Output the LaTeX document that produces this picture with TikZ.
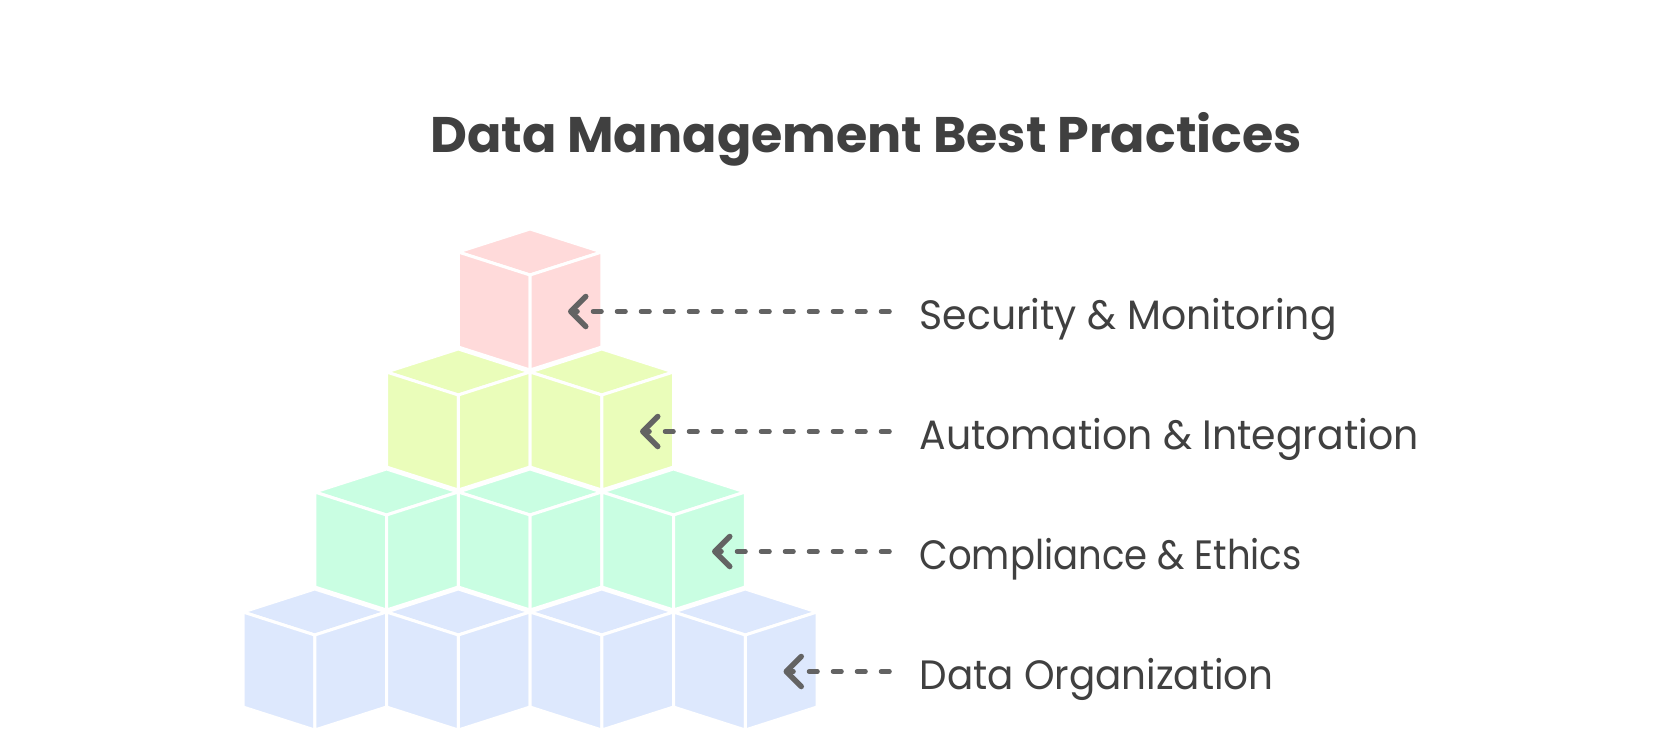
\documentclass[tikz,border=0pt]{standalone}
\usepackage{fontspec}
\usepackage{graphicx}
\setmainfont{Poppins}
\usetikzlibrary{arrows.meta}
\definecolor{pinkc}{HTML}{FFDADA}
\definecolor{limec}{HTML}{EAFDBA}
\definecolor{mintc}{HTML}{C9FEE2}
\definecolor{bluec}{HTML}{DDE8FD}
\definecolor{txtc}{HTML}{404040}
\definecolor{arrc}{HTML}{636363}
\newcommand\fitw[2]{\resizebox{#1pt}{\height}{#2}}
\tikzset{
  cubeface/.style={draw=white, line width=3pt, line join=round},
  pics/cube/.style={code={
    \path[cubeface, fill=#1] (0,0) -- (-71.75,-23) -- (0,-46) -- (71.75,-23) -- cycle;
    \path[cubeface, fill=#1] (0,0) -- (-71.75,-23) -- (-71.75,72) -- (0,95) -- cycle;
    \path[cubeface, fill=#1] (0,0) -- (71.75,-23) -- (71.75,72) -- (0,95) -- cycle;
  }},
  conn/.style={draw=arrc, line width=4.5pt, line cap=round, dash pattern=on 8.5pt off 15.5pt,
    -{Straight Barb[length=15pt, width=30pt, line width=5.5pt, round]}},
  lbl/.style={text=txtc, inner sep=0pt, anchor=base west, font=\fontsize{41}{48}\selectfont},
  ttl/.style={text=txtc, inner sep=0pt, anchor=base west, font=\fontsize{50}{58}\selectfont\bfseries}
}
\begin{document}
\begin{tikzpicture}[x=1pt, y=-1pt]
  \fill[white] (0,0) rectangle (1659,752);
  \useasboundingbox (0,0) rectangle (1659,752);

  % title
  \node[ttl] (title) at (430,152.3) {\fitw{871.7}{Data Management Best Practices}};

  % bottom row (blue)
  \pic at (314.75,635) {cube=bluec};
  \pic at (458.25,635) {cube=bluec};
  \pic at (601.75,635) {cube=bluec};
  \pic at (745.25,635) {cube=bluec};
  % third row (mint)
  \pic at (386.5,515) {cube=mintc};
  \pic at (530,515) {cube=mintc};
  \pic at (673.5,515) {cube=mintc};
  % second row (lime)
  \pic at (458.25,395) {cube=limec};
  \pic at (601.75,395) {cube=limec};
  % top (pink)
  \pic at (530,275) {cube=pinkc};

  % arrow end points
  \coordinate (t1) at (568,311.5);
  \coordinate (t2) at (640,431.5);
  \coordinate (t3) at (712,551.5);
  \coordinate (t4) at (783.5,671.5);
  \coordinate (s1) at (889.5,311.5);
  \coordinate (s2) at (889.5,431.5);
  \coordinate (s3) at (889.5,551.5);
  \coordinate (s4) at (889.5,671.5);

  % labels
  \node[lbl] (l1) at (919.5,329.5) {\fitw{417}{Security \& Monitoring}};
  \node[lbl] (l2) at (919.5,449.5) {\fitw{499}{Automation \& Integration}};
  \node[lbl] (l3) at (919.5,569.5) {\fitw{382}{Compliance \& Ethics}};
  \node[lbl] (l4) at (919.5,689.5) {\fitw{354}{Data Organization}};

  % connectors
  \draw[conn] (s1) -- (t1);
  \draw[conn] (s2) -- (t2);
  \draw[conn] (s3) -- (t3);
  \draw[conn] (s4) -- (t4);
\end{tikzpicture}
\end{document}
